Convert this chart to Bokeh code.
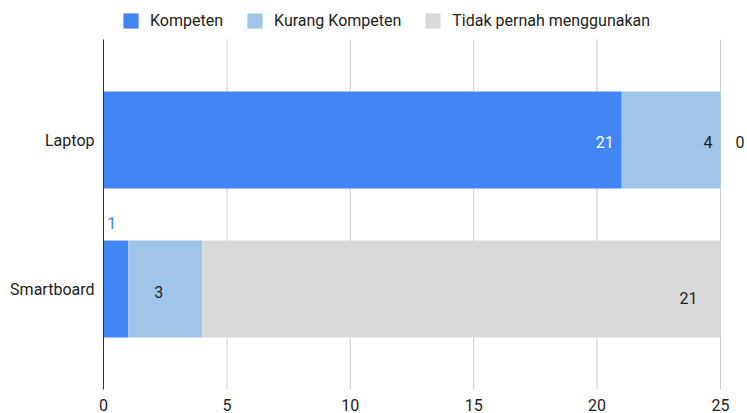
from bokeh.plotting import figure
from bokeh.models import Range1d, FixedTicker, Legend, LegendItem, LabelSet, ColumnDataSource
from bokeh.core.properties import value
from bokeh.embed import file_html
from bokeh.resources import INLINE
import numpy as np

# ---- data ----
categories = ["Smartboard", "Laptop"]
series_names = ["Kompeten", "Kurang Kompeten", "Tidak pernah menggunakan"]
kompeten = [1, 21]
kurang_kompeten = [3, 4]
tidak_pernah = [21, 0]
x_ticks = [0, 5, 10, 15, 20, 25]

# ---- style ----
colors = ["#4285F4", "#9FC5E8", "#D9D9D9"]
FONT = "Roboto"
FS = "16px"
TEXT = "#222222"

# per-label placement (pixels relative to segment end) and colour: [series][category]
label_dx = [[-12, -8], [-39, -8], [-23, 15]]
label_dy = [[66, -1.5], [-2.5, -1.5], [-8.5, -1.5]]
label_align = [["right", "right"], ["right", "right"], ["right", "left"]]
label_color = [["#4285F4", "#FFFFFF"], [TEXT, TEXT], [TEXT, TEXT]]

y_pos = list(range(len(categories)))

# layout: plot area x 103px..720px for 0..25, y 39px..389px; the frame is extended to the
# right and top canvas edges so that outside labels and the legend are not clipped
W, H = 747, 413
px_x = (720 - 103) / 25.0
x_end = (W - 103) / px_x
px_y = 149.0                       # pixels between category rows
y_lo = -100.5 / px_y               # bottom of plot area
y_hi = 1 + 100.5 / px_y            # top of plot area (grid top)
y_top = 1 + 139.5 / px_y           # canvas top

p = figure(width=W, height=H, output_backend="svg", toolbar_location=None,
           x_range=Range1d(0, x_end), y_range=Range1d(y_lo, y_top),
           min_border_left=103, min_border_right=0, min_border_top=0, min_border_bottom=24)

# vertical grid lines limited to the plot area
grid_x = x_ticks[1:]
p.segment(x0=grid_x, y0=[y_lo] * len(grid_x), x1=grid_x, y1=[y_hi] * len(grid_x),
          line_color="#CCCCCC", line_width=1)

series = [kompeten, kurang_kompeten, tidak_pernah]
left = np.zeros(len(categories))
renderers = []
lab = dict(x=[], y=[], text=[], dx=[], dy=[], color=[], align=[])
for si, (vals, col) in enumerate(zip(series, colors)):
    vals = np.array(vals, dtype=float)
    right = left + vals
    r = p.hbar(y=y_pos, left=left, right=right, height=0.651,
               fill_color=col, line_color=None)
    renderers.append(r)
    for ci in range(len(categories)):
        lab["x"].append(right[ci])
        lab["y"].append(y_pos[ci])
        lab["text"].append(str(int(vals[ci])))
        lab["dx"].append(label_dx[si][ci])
        lab["dy"].append(label_dy[si][ci])
        lab["color"].append(label_color[si][ci])
        lab["align"].append(label_align[si][ci])
    left = right

for align in ["left", "right"]:
    idx = [i for i, a in enumerate(lab["align"]) if a == align]
    sub = ColumnDataSource({k: [v[i] for i in idx] for k, v in lab.items()})
    p.add_layout(LabelSet(x="x", y="y", text="text", x_offset="dx", y_offset="dy",
                          source=sub, text_align=align, text_baseline="middle",
                          text_color="color", text_font=value(FONT),
                          text_font_size=value(FS)))

# axes
p.xaxis.ticker = FixedTicker(ticks=x_ticks)
p.xaxis.axis_line_color = None
p.xaxis.major_tick_line_color = None
p.xaxis.minor_tick_line_color = None
p.xaxis.major_label_standoff = 3
p.xaxis.major_label_text_font = FONT
p.xaxis.major_label_text_font_size = FS
p.xaxis.major_label_text_color = TEXT

p.yaxis.ticker = FixedTicker(ticks=y_pos)
p.yaxis.bounds = (y_lo, y_hi)
p.yaxis.major_label_overrides = {i: c for i, c in zip(y_pos, categories)}
p.yaxis.axis_line_color = "#333333"
p.yaxis.major_tick_line_color = None
p.yaxis.minor_tick_line_color = None
p.yaxis.major_label_standoff = 3
p.yaxis.major_label_text_font = FONT
p.yaxis.major_label_text_font_size = FS
p.yaxis.major_label_text_color = TEXT

p.xgrid.grid_line_color = None
p.ygrid.grid_line_color = None
p.outline_line_color = None

legend = Legend(items=[LegendItem(label=n, renderers=[r]) for n, r in zip(series_names, renderers)],
                orientation="horizontal", location=(18, 359), padding=0, margin=0,
                spacing=22, label_standoff=10, glyph_width=19, glyph_height=19,
                border_line_color=None, background_fill_alpha=0,
                label_text_font=FONT, label_text_font_size=FS, label_text_color=TEXT)
p.add_layout(legend, "center")

open("out.html", "w").write(file_html(p, INLINE))
